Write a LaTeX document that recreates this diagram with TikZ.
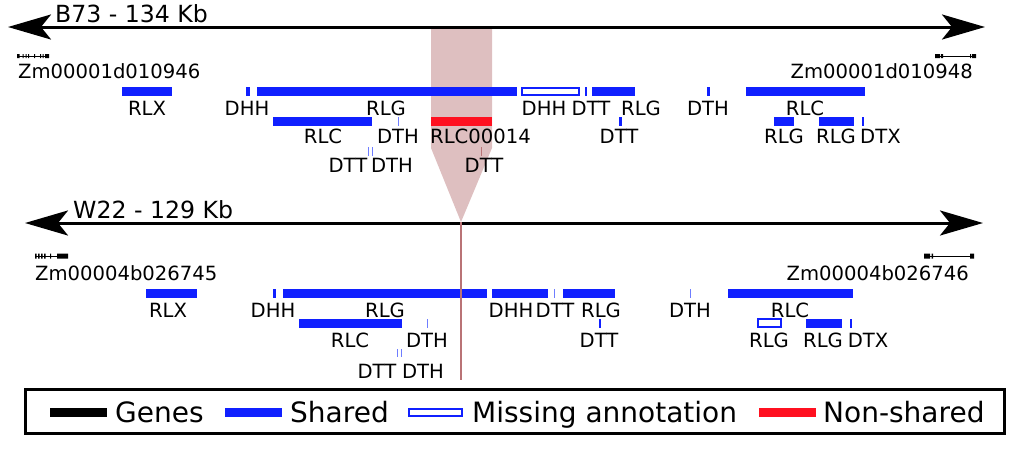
\documentclass[tikz,border=0pt]{standalone}
\usepackage{fontspec}
\setmainfont{DejaVu Sans}
\usepackage{xcolor}
\usetikzlibrary{arrows.meta}

\definecolor{sharedcol}{RGB}{16,32,255}
\definecolor{faintcol}{RGB}{110,125,255}
\definecolor{nonsharedcol}{RGB}{255,16,32}
\definecolor{tracecol}{RGB}{222,191,192}
\definecolor{gapcol}{RGB}{185,115,118}

\tikzset{
  chrom/.style={line width=3pt, {Stealth[length=43pt,width=25pt,inset=10pt]}-{Stealth[length=43pt,width=25pt,inset=10pt]}},
  te/.style={fill=sharedcol},
  faintte/.style={fill=faintcol},
  hollow/.style={draw=sharedcol, line width=2pt, fill=white},
  gene/.style={fill=black},
  lbl/.style={anchor=base, inner sep=0pt, font=\fontsize{19.6}{20}\selectfont},
  title/.style={anchor=base west, inner sep=0pt, font=\fontsize{23.6}{24}\selectfont},
  leg/.style={anchor=base west, inner sep=0pt, font=\fontsize{28}{30}\selectfont}
}

\begin{document}
\begin{tikzpicture}[x=1pt, y=-1pt]
  \useasboundingbox (0,0) rectangle (1031,448);

  % trace of RLC00014 down to W22
  \fill[tracecol] (431,28) -- (492,28) -- (492,148) -- (461,222) -- (431,148) -- cycle;

  % B73
  \coordinate (b73l) at (8,27);
  \coordinate (b73r) at (985,27);
  \draw[chrom] (b73l) -- (b73r);
  \node[title] (b73) at (55,22.5) {B73 - 134 Kb};

  \draw[line width=1pt] (17,56) -- (49,56);
  \fill[gene] (17,54) rectangle (19.5,58) (22.5,54) rectangle (23.5,58) (25.5,54) rectangle (26.5,58)
              (28,54) rectangle (29,58) (34,54) rectangle (35,58) (40,54) rectangle (41,58)
              (42.5,54) rectangle (43.5,58) (45,54) rectangle (49,58);
  \node[lbl, anchor=base west] (g946) at (18,78) {Zm00001d010946};
  \draw[line width=1pt] (935,56) -- (976,56);
  \fill[gene] (935,54) rectangle (940,58) (941,54) rectangle (943,58) (970,54) rectangle (971,58)
              (972,54) rectangle (976,58);
  \node[lbl, anchor=base east] (g948) at (973,78) {Zm00001d010948};

  \fill[te] (122,87) rectangle (172,96);
  \fill[te] (246,87) rectangle (250,96);
  \fill[te] (257,87) rectangle (517,96);
  \draw[hollow] (522,88) rectangle (579,95);
  \fill[te] (584.5,87) rectangle (586.5,96);
  \fill[te] (592,87) rectangle (635,96);
  \fill[te] (707,87) rectangle (710,96);
  \fill[te] (746,87) rectangle (865,96);
  \node[lbl] (rlx1) at (147,115) {RLX};
  \node[lbl] (dhh1) at (247,115) {DHH};
  \node[lbl] (rlg1) at (386,115) {RLG};
  \node[lbl] (dhh2) at (544,115) {DHH};
  \node[lbl] (dtt1) at (591,115) {DTT};
  \node[lbl] (rlg2) at (641,115) {RLG};
  \node[lbl] (dth1) at (708,115) {DTH};
  \node[lbl] (rlc1) at (805,115) {RLC};

  \fill[te] (273,117) rectangle (372,126);
  \fill[faintte] (397.5,117) rectangle (398.7,126);
  \fill[nonsharedcol] (431,117) rectangle (492,126);
  \fill[te] (619,117) rectangle (622,126);
  \fill[te] (774,117) rectangle (794,126);
  \fill[te] (819,117) rectangle (854,126);
  \fill[te] (862,117) rectangle (864,126);
  \node[lbl] (rlc2) at (323,143) {RLC};
  \node[lbl] (dth2) at (398,143) {DTH};
  \node[lbl, anchor=base west] (rlc14) at (430,143) {RLC00014};
  \node[lbl] (dtt2) at (619,143) {DTT};
  \node[lbl] (rlg3) at (784,143) {RLG};
  \node[lbl] (rlg4) at (836,143) {RLG};
  \node[lbl, anchor=base west] (dtx1) at (860,143) {DTX};

  \fill[faintte] (367.5,147) rectangle (368.7,156);
  \fill[faintte] (371.5,147) rectangle (372.7,156);
  \fill[gapcol] (480.5,147) rectangle (481.7,156);
  \node[lbl] (dtt3) at (348,172) {DTT};
  \node[lbl] (dth3) at (392,172) {DTH};
  \node[lbl] (dtt4) at (484,172) {DTT};

  % W22
  \coordinate (w22l) at (25,223);
  \coordinate (w22r) at (983,223);
  \draw[chrom] (w22l) -- (w22r);
  \node[title] (w22) at (73,218) {W22 - 129 Kb};

  \draw[line width=1pt] (35,256) -- (68,256);
  \fill[gene] (35,253.5) rectangle (36.5,258.5) (38,253.5) rectangle (39.5,258.5) (41,253.5) rectangle (42.5,258.5)
              (44,253.5) rectangle (45.5,258.5) (50,253.5) rectangle (51,258.5) (57,253.5) rectangle (68,258.5);
  \node[lbl, anchor=base west] (g745) at (35,280) {Zm00004b026745};
  \draw[line width=1pt] (924,256) -- (974,256);
  \fill[gene] (924,253.5) rectangle (930,258.5) (931.5,253.5) rectangle (933,258.5) (970,253.5) rectangle (974,258.5);
  \node[lbl, anchor=base east] (g746) at (969,280) {Zm00004b026746};

  \fill[te] (146,289) rectangle (197,298);
  \fill[te] (273,289) rectangle (276,298);
  \fill[te] (283,289) rectangle (487,298);
  \fill[te] (492,289) rectangle (548,298);
  \fill[faintte] (553.5,289) rectangle (555,298);
  \fill[te] (563,289) rectangle (615,298);
  \fill[faintte] (689.5,289) rectangle (690.7,298);
  \fill[te] (728,289) rectangle (853,298);
  \node[lbl] (rlx2) at (168,317) {RLX};
  \node[lbl] (dhh3) at (273,317) {DHH};
  \node[lbl] (rlg5) at (385,317) {RLG};
  \node[lbl] (dhh4) at (511,317) {DHH};
  \node[lbl] (dtt5) at (555,317) {DTT};
  \node[lbl] (rlg6) at (601,317) {RLG};
  \node[lbl] (dth4) at (690,317) {DTH};
  \node[lbl] (rlc3) at (790,317) {RLC};

  \fill[te] (299,319) rectangle (402,328);
  \fill[faintte] (426.5,319) rectangle (428,328);
  \fill[te] (598.5,319) rectangle (601,328);
  \draw[hollow] (758,319) rectangle (781,327);
  \fill[te] (806,319) rectangle (842,328);
  \fill[te] (849.5,319) rectangle (851.5,328);
  \node[lbl] (rlc4) at (350,347) {RLC};
  \node[lbl] (dth5) at (427,347) {DTH};
  \node[lbl] (dtt6) at (599,347) {DTT};
  \node[lbl] (rlg7) at (769,347) {RLG};
  \node[lbl] (rlg8) at (823,347) {RLG};
  \node[lbl] (dtx2) at (868,347) {DTX};

  \fill[faintte] (396.5,349) rectangle (397.7,357);
  \fill[faintte] (400.5,349) rectangle (401.7,357);
  \node[lbl] (dtt7) at (377,378) {DTT};
  \node[lbl] (dth6) at (423,378) {DTH};

  % RLC00014 is missing in W22
  \coordinate (gap) at (461,222);
  \coordinate (gapend) at (461,380);
  \draw[gapcol, line width=1.2pt] (gap) -- (gapend);

  % legend
  \draw[line width=3pt] (25,389.5) rectangle (1004,433.5);
  \draw[line width=9pt] (50,412.5) -- (107,412.5);
  \node[leg] (lgenes) at (115,422) {Genes};
  \draw[sharedcol, line width=9pt] (225,412.5) -- (282,412.5);
  \node[leg] (lshared) at (290,422) {Shared};
  \draw[hollow] (409,409) rectangle (462,416);
  \node[leg] (lmissing) at (472,422) {Missing annotation};
  \draw[nonsharedcol, line width=9pt] (759,412.5) -- (816,412.5);
  \node[leg] (lnonshared) at (823,422) {Non-shared};
\end{tikzpicture}
\end{document}
